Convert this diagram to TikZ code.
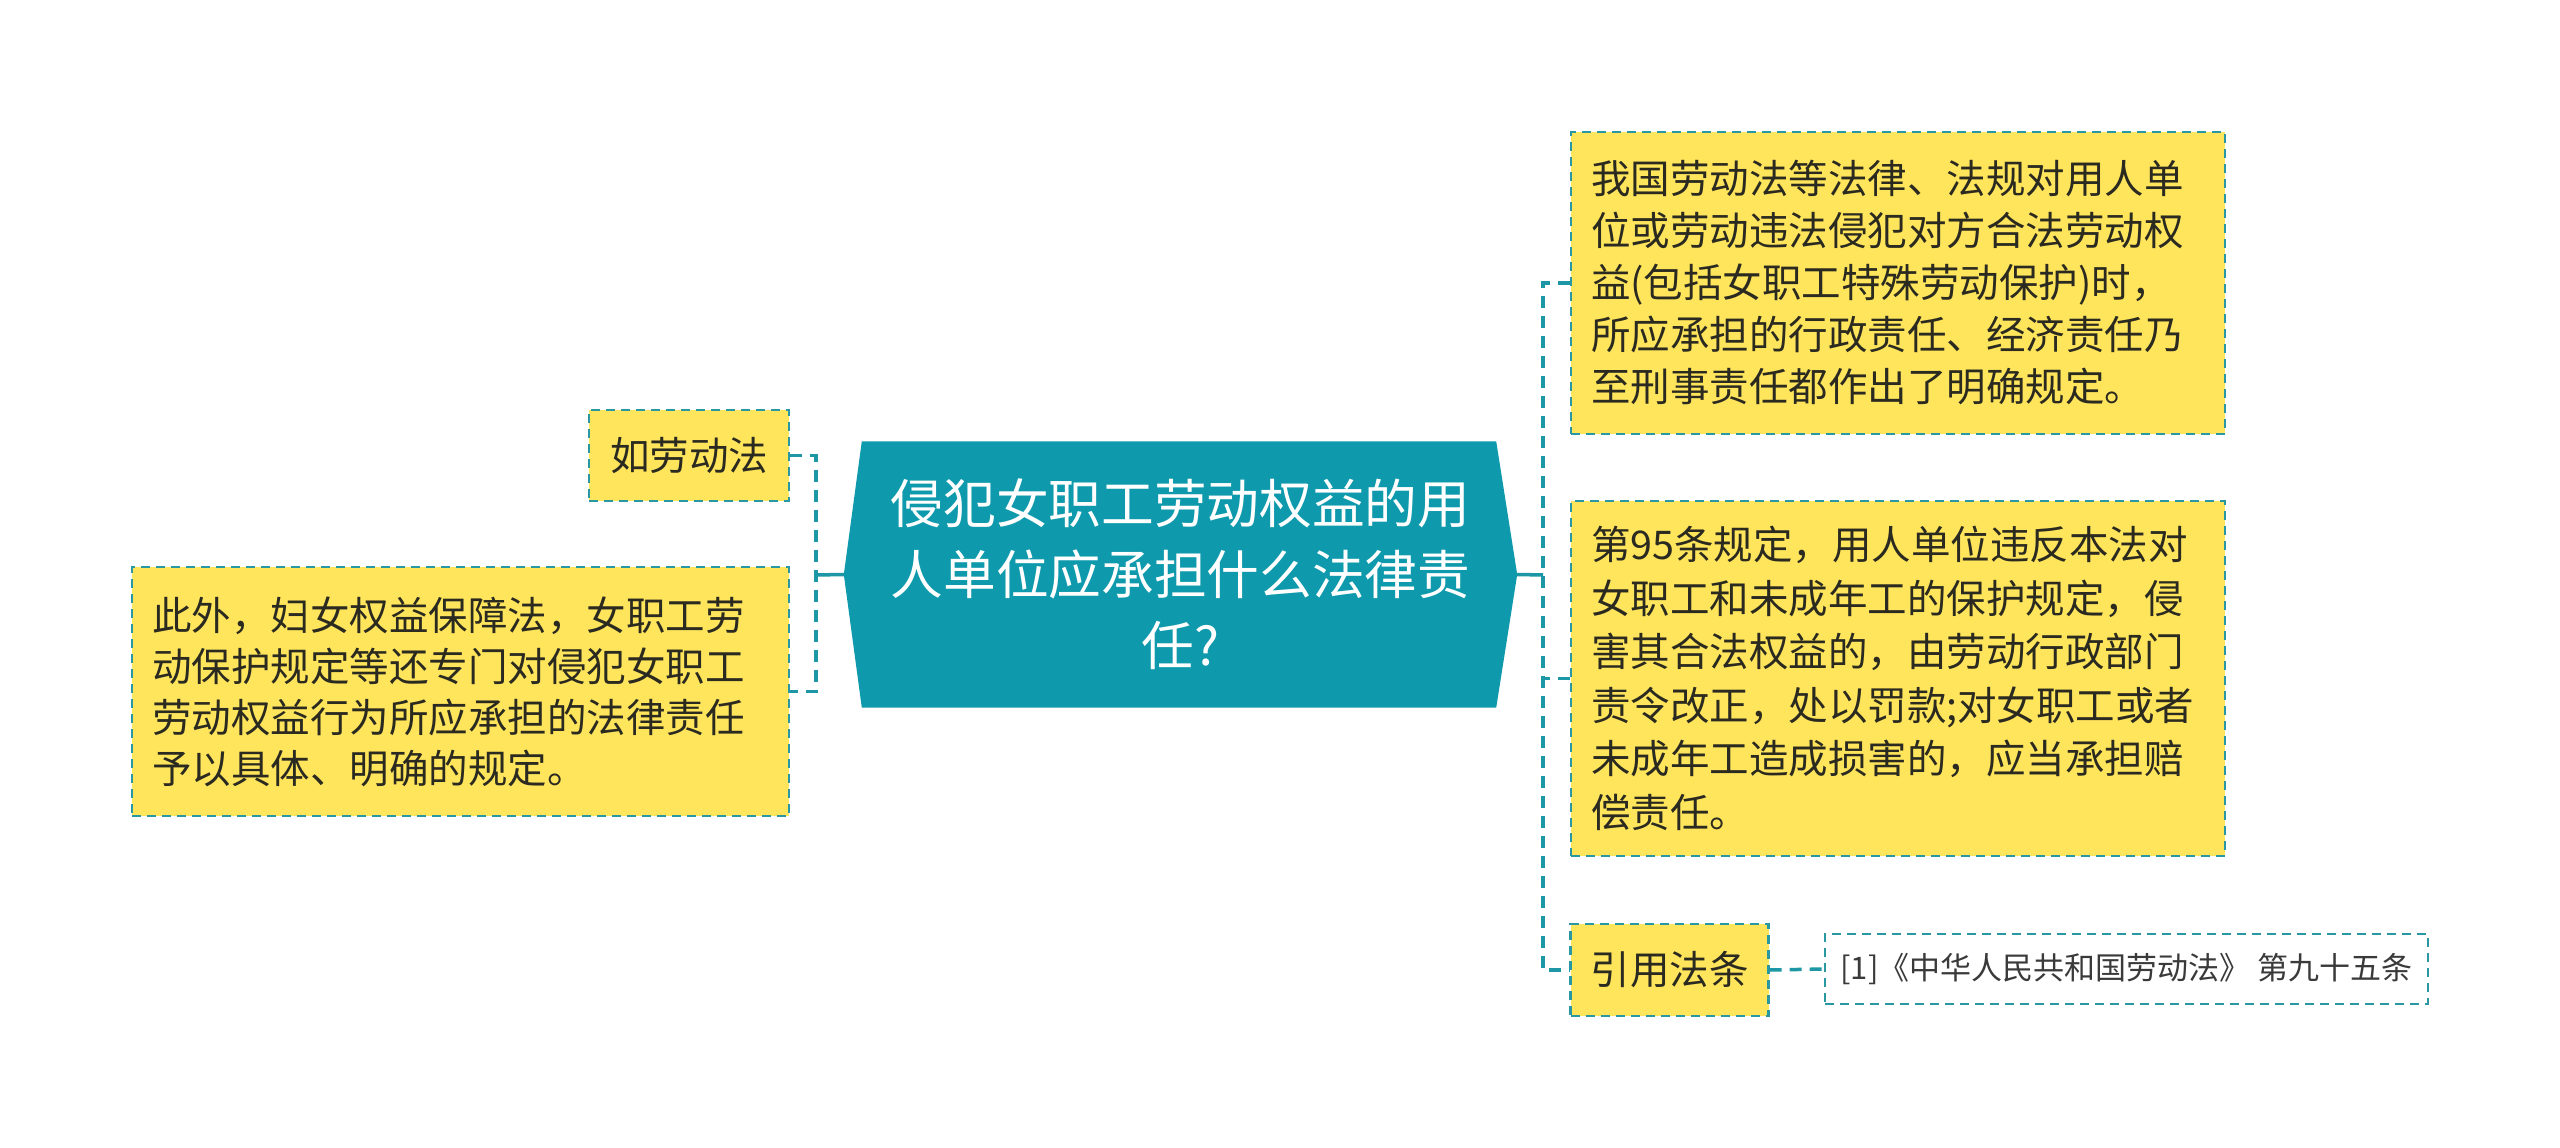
\documentclass[tikz,border=0pt]{standalone}
\usepackage{fontspec}
\newfontfamily\cjk{Noto Sans CJK SC}
\usetikzlibrary{backgrounds}
\definecolor{mainfill}{HTML}{0E9AAC}
\definecolor{bordc}{HTML}{2A98A2}
\definecolor{linec}{HTML}{1D97A6}
\definecolor{leafy}{HTML}{FFE55C}
\definecolor{txtc}{HTML}{2B2A20}
\definecolor{citec}{HTML}{3A3A3A}
\begin{document}
\begin{tikzpicture}[x=1pt,y=-1pt,
  leaf/.style={draw=bordc, fill=leafy, line width=2.2pt, dash pattern=on 9pt off 6pt,
    inner xsep=20pt, inner ysep=0pt, align=left, text=txtc, anchor=center,
    font=\cjk\fontsize{39.5}{52}\selectfont},
  conn/.style={draw=linec, line width=3.5pt, dash pattern=on 12pt off 8pt},
  solidc/.style={draw=linec, line width=3.5pt}]
\useasboundingbox (0,0) rectangle (2560,1148);

% central topic
\node[minimum width=673pt, minimum height=266pt, inner sep=0pt, align=center, text=white,
  font=\cjk\fontsize{52.7}{71}\selectfont] (c) at (1180.5,574.5)
  {侵犯女职工劳动权益的用\\人单位应承担什么法律责\\任?};
\begin{scope}[on background layer]
\fill[white] (0,0) rectangle (2560,1148);
\fill[mainfill] (c.west) -- ([xshift=18pt]c.north west) -- ([xshift=-21pt]c.north east)
  -- (c.east) -- ([xshift=-21pt]c.south east) -- ([xshift=18pt]c.south west) -- cycle;
\end{scope}

% left nodes
\node[leaf, minimum width=200pt, minimum height=91pt] (n1) at (689,455.5) {如劳动法};
\node[leaf, text width=617pt, minimum height=249pt,
  font=\cjk\fontsize{39.5}{51}\selectfont] (n2) at (460.5,691.5)
  {此外，妇女权益保障法，女职工劳\\动保护规定等还专门对侵犯女职工\\劳动权益行为所应承担的法律责任\\予以具体、明确的规定。};

% right nodes
\node[leaf, text width=614pt, minimum height=302pt,
  font=\cjk\fontsize{39.5}{52}\selectfont] (r1) at (1898,283)
  {我国劳动法等法律、法规对用人单\\位或劳动违法侵犯对方合法劳动权\\益(包括女职工特殊劳动保护)时，\\所应承担的行政责任、经济责任乃\\至刑事责任都作出了明确规定。};
\node[leaf, text width=614pt, minimum height=355pt,
  font=\cjk\fontsize{39.5}{53.5}\selectfont] (r2) at (1898,678.5)
  {第95条规定，用人单位违反本法对\\女职工和未成年工的保护规定，侵\\害其合法权益的，由劳动行政部门\\责令改正，处以罚款;对女职工或者\\未成年工造成损害的，应当承担赔\\偿责任。};
\node[leaf, minimum width=197pt, minimum height=92pt] (n5) at (1669.5,970) {引用法条};
\node[draw=bordc, fill=white, line width=2pt, dash pattern=on 9pt off 6pt, text=citec,
  minimum width=603pt, minimum height=70pt, inner sep=0pt,
  font=\cjk\fontsize{31}{36}\selectfont] (n6) at (2126.5,969)
  {[1]《中华人民共和国劳动法》 第九十五条};

% connectors
\coordinate (jl) at (816,575);
\coordinate (jr) at (1543,575);
\draw[solidc] (c.west) -- (jl);
\draw[solidc] (c.east) -- (jr);
\draw[conn] (n1.east) -- (n1.east -| jl) -- (n2.east -| jl) -- (n2.east);
\draw[conn] (r1.west) -- (r1.west -| jr) -- (n5.west -| jr) -- (n5.west);
\draw[conn] (r2.west) -- (r2.west -| jr);
\draw[conn] (n5.east) -- (n6.west);
\end{tikzpicture}
\end{document}
